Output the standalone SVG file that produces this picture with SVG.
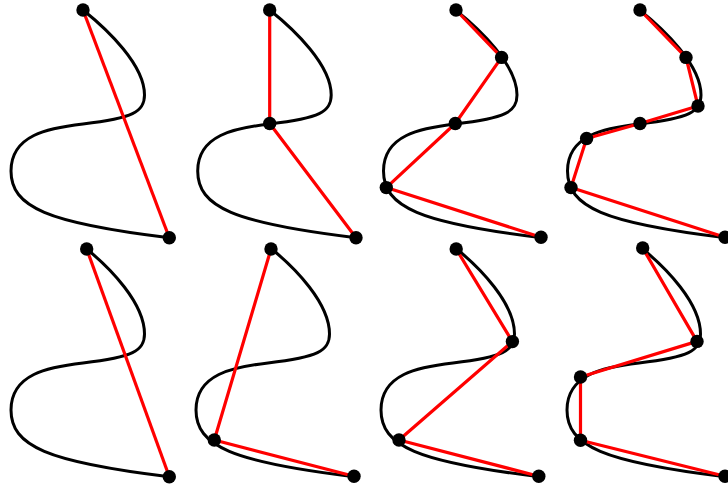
<svg xmlns="http://www.w3.org/2000/svg" xmlns:xlink="http://www.w3.org/1999/xlink" width="728" height="487" viewBox="0 0 728 487">
<style>
.curve{fill:none;stroke:#000;stroke-width:3;stroke-linecap:round;stroke-linejoin:round}
.poly{fill:none;stroke:#ff0000;stroke-width:3.2;stroke-linejoin:round}
.dot{fill:#000}
</style>
<defs>
<path id="curveT" d="M83,10 C108,30 144.5,65 144.5,95 C144.5,112 133,118 83,124 C48,128 11,135 11,171 C11,207 47,223 169.3,237.7"/>
<path id="curveB" d="M86.7,249 C110,268 144.5,303 144.5,334 C144.5,351 133,357 83,363 C48,367 11,374 11,410 C11,446 47,462 169.3,476.7"/>
</defs>
<g id="curves">
<use xlink:href="#curveT" class="curve"/>
<use xlink:href="#curveT" class="curve" transform="translate(186.7,0)"/>
<use xlink:href="#curveT" class="curve" transform="translate(372.5,0)"/>
<use xlink:href="#curveT" class="curve" transform="translate(556.5,0)"/>
<use xlink:href="#curveB" class="curve"/>
<use xlink:href="#curveB" class="curve" transform="translate(185,0)"/>
<use xlink:href="#curveB" class="curve" transform="translate(370,0)"/>
<use xlink:href="#curveB" class="curve" transform="translate(556,0)"/>
</g>
<g id="connectors">
<polyline class="poly" points="83,10 169.3,237.7"/>
<polyline class="poly" points="269.7,10 269.7,123.5 356,237.7"/>
<polyline class="poly" points="456,10 501.6,57.4 455.3,123.5 386.3,187.6 541,237.2"/>
<polyline class="poly" points="640,10 686,57.4 698,106 640,123.5 586.6,138.5 571,187.6 725,237.2"/>
<polyline class="poly" points="86.7,249 169.3,476.7"/>
<polyline class="poly" points="271,249 214.3,440 354,476.2"/>
<polyline class="poly" points="456.2,249 512.4,341.6 399,440 538.8,476.2"/>
<polyline class="poly" points="642.7,248 697,341.4 580.5,377 580.5,440.3 725,476.2"/>
</g>
<g id="panel1"><circle class="dot" cx="83" cy="10" r="6.7"/><circle class="dot" cx="169.3" cy="237.7" r="6.7"/></g>
<g id="panel2"><circle class="dot" cx="269.7" cy="10" r="6.7"/><circle class="dot" cx="269.7" cy="123.5" r="6.7"/><circle class="dot" cx="356" cy="237.7" r="6.7"/></g>
<g id="panel3"><circle class="dot" cx="456" cy="10" r="6.7"/><circle class="dot" cx="501.6" cy="57.4" r="6.7"/><circle class="dot" cx="455.3" cy="123.5" r="6.7"/><circle class="dot" cx="386.3" cy="187.6" r="6.7"/><circle class="dot" cx="541" cy="237.2" r="6.7"/></g>
<g id="panel4"><circle class="dot" cx="640" cy="10" r="6.7"/><circle class="dot" cx="686" cy="57.4" r="6.7"/><circle class="dot" cx="698" cy="106" r="6.7"/><circle class="dot" cx="640" cy="123.5" r="6.7"/><circle class="dot" cx="586.6" cy="138.5" r="6.7"/><circle class="dot" cx="571" cy="187.6" r="6.7"/><circle class="dot" cx="725" cy="237.2" r="6.7"/></g>
<g id="panel5"><circle class="dot" cx="86.7" cy="249" r="6.7"/><circle class="dot" cx="169.3" cy="476.7" r="6.7"/></g>
<g id="panel6"><circle class="dot" cx="271" cy="249" r="6.7"/><circle class="dot" cx="214.3" cy="440" r="6.7"/><circle class="dot" cx="354" cy="476.2" r="6.7"/></g>
<g id="panel7"><circle class="dot" cx="456.2" cy="249" r="6.7"/><circle class="dot" cx="512.4" cy="341.6" r="6.7"/><circle class="dot" cx="399" cy="440" r="6.7"/><circle class="dot" cx="538.8" cy="476.2" r="6.7"/></g>
<g id="panel8"><circle class="dot" cx="642.7" cy="248" r="6.7"/><circle class="dot" cx="697" cy="341.4" r="6.7"/><circle class="dot" cx="580.5" cy="377" r="6.7"/><circle class="dot" cx="580.5" cy="440.3" r="6.7"/><circle class="dot" cx="725" cy="476.2" r="6.7"/></g>
</svg>
